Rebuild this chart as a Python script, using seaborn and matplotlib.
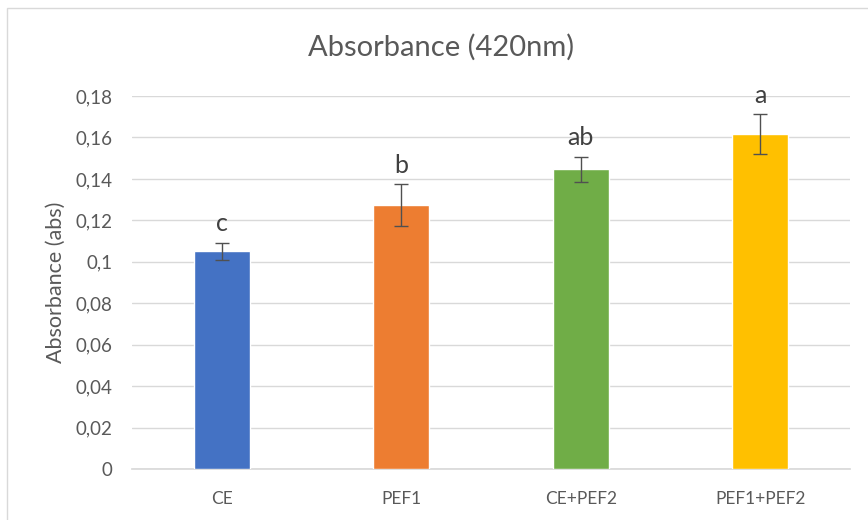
import matplotlib
matplotlib.use("Agg")
import matplotlib.pyplot as plt
import seaborn as sns
import pandas as pd
from matplotlib.patches import Rectangle

categories = ["CE", "PEF1", "CE+PEF2", "PEF1+PEF2"]
values = [0.105, 0.1275, 0.1447, 0.1615]
errors = [0.0042, 0.0100, 0.0060, 0.0097]
letters = ["c", "b", "ab", "a"]
colors = ["#4472C4", "#ED7D31", "#70AD47", "#FFC000"]
yticks = [0, 0.02, 0.04, 0.06, 0.08, 0.10, 0.12, 0.14, 0.16, 0.18]

sns.set_theme(style="white")
plt.rcParams["font.family"] = ["Lato", "DejaVu Sans"]
txt = "#595959"

df = pd.DataFrame({"cat": categories, "val": values})

fig = plt.figure(figsize=(8.68, 5.2), dpi=100)
ax = fig.add_axes([132/868, 1-469/520, (850-132)/868, (469-96)/520])

sns.barplot(data=df, x="cat", y="val", hue="cat", palette=colors, width=0.31,
            ax=ax, legend=False, saturation=1, errorbar=None, zorder=3)
ax.errorbar(range(len(categories)), values, yerr=errors, fmt="none",
            ecolor="#505050", elinewidth=1.0, capsize=5, capthick=1.0, zorder=4)

for i, (v, e, l) in enumerate(zip(values, errors, letters)):
    ax.text(i, v + e + 0.0035, l, ha="center", va="bottom", fontsize=18,
            color="#404040", clip_on=False)

ax.set_xlim(-0.5, 3.5)
ax.set_ylim(0, 0.18)
ax.set_yticks(yticks)
ax.set_yticklabels([("%g" % t).replace(".", ",") for t in yticks], fontsize=13.5, color=txt)
ax.tick_params(axis="y", length=0, pad=14)
ax.tick_params(axis="x", length=0, pad=16, labelsize=12.5, labelcolor=txt)
ax.grid(axis="y", color="#D9D9D9", linewidth=1, zorder=0)
ax.set_axisbelow(True)
for s in ["top", "right", "left"]:
    ax.spines[s].set_visible(False)
ax.spines["bottom"].set_color("#D9D9D9")
ax.set_xlabel("")
ax.set_ylabel("Absorbance (abs)", fontsize=15.5, color=txt, labelpad=7)

fig.text((300+583)/2/868, 1-47/520, "Absorbance (420nm)", ha="center", va="center",
         fontsize=21, color=txt)

fig.patches.append(Rectangle((7/868, -0.05), 1.1, (520-8)/520 + 0.05, transform=fig.transFigure,
                             fill=False, edgecolor="#D9D9D9", linewidth=1))

fig.savefig("out.png", dpi=100, facecolor="white")
